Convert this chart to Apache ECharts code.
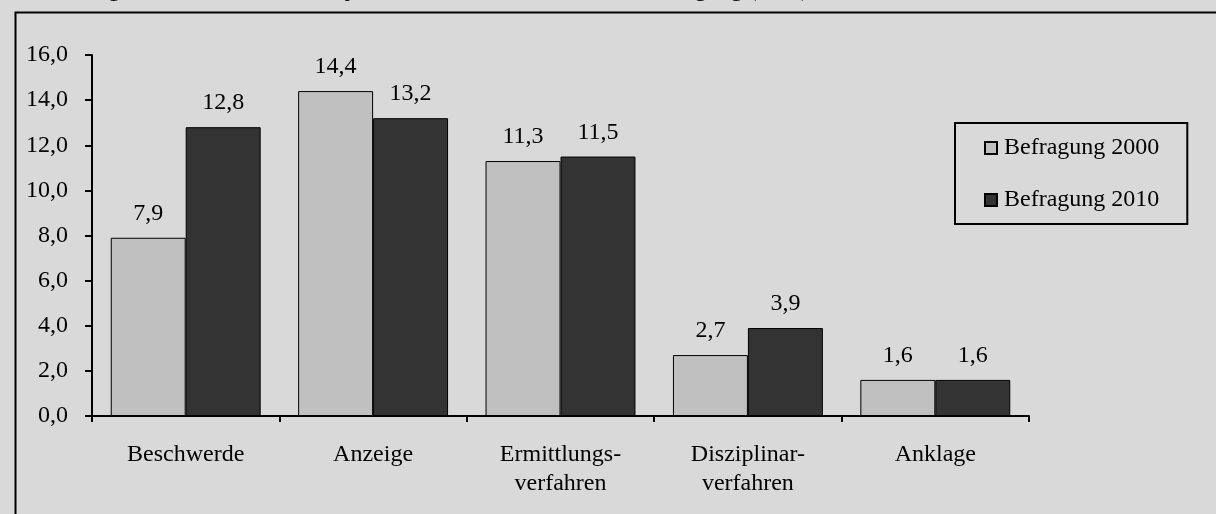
<!DOCTYPE html>
<html>
<head>
<meta charset="utf-8">
<script src="https://cdn.jsdelivr.net/npm/echarts@6/dist/echarts.min.js"></script>
<style>html,body{margin:0;padding:0;background:#d9d9d9;}#c{width:1216px;height:514px;}</style>
</head>
<body>
<div id="c"></div>
<script>
const categories = ['Beschwerde', 'Anzeige', 'Ermittlungs-\nverfahren', 'Disziplinar-\nverfahren', 'Anklage'];
const seriesNames = ['Befragung 2000', 'Befragung 2010'];
const values2000 = [7.9, 14.4, 11.3, 2.7, 1.6];
const values2010 = [12.8, 13.2, 11.5, 3.9, 1.6];
const titleText = 'Verteilung mit rechtlichen Konsequenzen für den Beamten nach Befragung (in %)';

const font = '"Liberation Serif", "DejaVu Serif", serif';
const fmt = v => (typeof v === 'number' ? v : v.value).toFixed(1).replace('.', ',');

const chart = echarts.init(document.getElementById('c'), null, {renderer: 'canvas'});
chart.setOption({
  backgroundColor: '#d9d9d9',
  animation: false,
  textStyle: {fontFamily: font, color: '#000'},
  graphic: [
    {type: 'rect', left: 13, top: 10, shape: {width: 1300, height: 600},
     style: {fill: 'none', stroke: '#000', lineWidth: 2}, silent: true},
    {type: 'text', x: 20, y: -10,
     style: {text: titleText, font: '24px ' + font, fill: '#000', verticalAlign: 'middle'}}
  ],
  grid: {left: 92, right: 187, top: 55, bottom: 98},
  legend: {
    orient: 'vertical', left: 955, top: 123,
    borderColor: '#000', borderWidth: 2, backgroundColor: 'transparent',
    padding: [13, 28, 12, 29], itemGap: 28,
    itemWidth: 12, itemHeight: 12, icon: 'rect',
    textStyle: {fontFamily: font, fontSize: 24, color: '#000', padding: [0, 0, 0, 2]},
    data: seriesNames
  },
  xAxis: {
    type: 'category', data: categories,
    axisLine: {lineStyle: {color: '#000', width: 2}},
    axisTick: {show: true, length: 6, lineStyle: {color: '#000', width: 2}},
    axisLabel: {fontFamily: font, fontSize: 24, color: '#000', margin: 24, lineHeight: 29},
    splitLine: {show: false}
  },
  yAxis: {
    type: 'value', min: 0, max: 16, interval: 2,
    axisLine: {show: true, lineStyle: {color: '#000', width: 2}},
    axisTick: {show: true, length: 7, lineStyle: {color: '#000', width: 2}},
    axisLabel: {fontFamily: font, fontSize: 24, color: '#000', margin: 24, formatter: v => v.toFixed(1).replace('.', ',')},
    splitLine: {show: false}
  },
  series: [
    {name: seriesNames[0], type: 'bar', data: values2000, barGap: '0%', barCategoryGap: '20%',
     itemStyle: {color: '#c0c0c0', borderColor: '#000', borderWidth: 1},
     label: {show: true, position: 'top', distance: 12, fontFamily: font, fontSize: 24, color: '#000', formatter: p => fmt(p.value)}},
    {name: seriesNames[1], type: 'bar', data: values2010,
     itemStyle: {color: '#333333', borderColor: '#000', borderWidth: 1},
     label: {show: true, position: 'top', distance: 12, fontFamily: font, fontSize: 24, color: '#000', formatter: p => fmt(p.value)}}
  ]
});
</script>
</body>
</html>
